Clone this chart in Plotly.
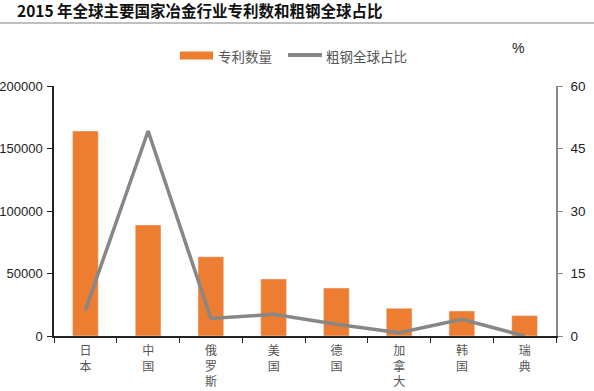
import plotly.graph_objects as go

categories = ["日本", "中国", "俄罗斯", "美国", "德国", "加拿大", "韩国", "瑞典"]
patents = [164000, 88800, 63400, 45600, 38400, 22200, 20000, 16300]
steel_share = [6.2, 49.2, 4.2, 5.2, 2.8, 0.8, 4.0, 0.0]
left_ticks = [0, 50000, 100000, 150000, 200000]
right_ticks = [0, 15, 30, 45, 60]

labels = ["<br>".join(c) for c in categories]
CJK = "Noto Sans CJK SC"
NUM = "Liberation Sans, Arial"

fig = go.Figure()
fig.add_bar(x=labels, y=patents, marker_color="#ED7D31", name="专利数量", width=0.41)
fig.add_scatter(x=labels, y=steel_share, yaxis="y2", mode="lines",
                line=dict(color="#878787", width=3.5), name="粗钢全球占比")

fig.update_layout(
    width=594, height=391,
    margin=dict(l=54, r=38, t=86, b=55, autoexpand=False),
    paper_bgcolor="white", plot_bgcolor="white",
    showlegend=False,
    title=dict(text="<b>2015 年全球主要国家冶金行业专利数和粗钢全球占比</b>",
               xref="container", yref="container", x=17 / 594, xanchor="left",
               y=1 - 12 / 391, yanchor="middle",
               font=dict(family=CJK, size=15.5, color="#111")),
    xaxis=dict(showline=True, linecolor="#222", linewidth=1.5, ticks="outside",
               tickson="boundaries", ticklen=5, tickcolor="#222", automargin=False,
               ticklabelstandoff=3,
               tickfont=dict(family=CJK, size=12, color="#555"), showgrid=False),
    yaxis=dict(range=[0, 200000], tickvals=left_ticks, ticktext=[str(v) for v in left_ticks],
               showline=True, linecolor="#222", linewidth=1.5, ticks="outside", ticklen=5,
               tickcolor="#222", tickfont=dict(family=NUM, size=13, color="#222"),
               ticklabelstandoff=2,
               showgrid=False, zeroline=False, automargin=False),
    yaxis2=dict(range=[0, 60], tickvals=right_ticks, overlaying="y", side="right",
                showline=True, linecolor="#888", linewidth=1.5, ticks="outside", ticklen=5,
                tickcolor="#888", tickfont=dict(family=NUM, size=13.5, color="#222"),
                ticklabelstandoff=5,
                showgrid=False, zeroline=False, automargin=False),
)

def py(ypix):
    return 1 + (86 - ypix) / 250

def px(xpix):
    return (xpix - 54) / 502

# rule under title
fig.add_shape(type="line", xref="paper", yref="paper", x0=px(0), x1=px(594),
              y0=py(23), y1=py(23), line=dict(color="#aaa", width=1.5))

# legend
fig.add_shape(type="rect", xref="paper", yref="paper", x0=px(180), x1=px(213),
              y0=py(59.5), y1=py(51.5), fillcolor="#ED7D31", line=dict(width=0))
fig.add_annotation(xref="paper", yref="paper", x=px(216), y=py(55.5), xanchor="left",
                   yanchor="middle", showarrow=False, text="专利数量",
                   font=dict(family=CJK, size=13.5, color="#555"))
fig.add_shape(type="line", xref="paper", yref="paper", x0=px(288), x1=px(322),
              y0=py(55), y1=py(55), line=dict(color="#878787", width=4))
fig.add_annotation(xref="paper", yref="paper", x=px(324), y=py(55.5), xanchor="left",
                   yanchor="middle", showarrow=False, text="粗钢全球占比",
                   font=dict(family=CJK, size=13.5, color="#555"))
fig.add_annotation(xref="paper", yref="paper", x=px(518), y=py(48), xanchor="center",
                   yanchor="middle", showarrow=False, text="%",
                   font=dict(family=NUM, size=14, color="#222"))

fig.write_html("out.html", config={"displayModeBar": False},
               post_script="document.body.style.margin='0';")
